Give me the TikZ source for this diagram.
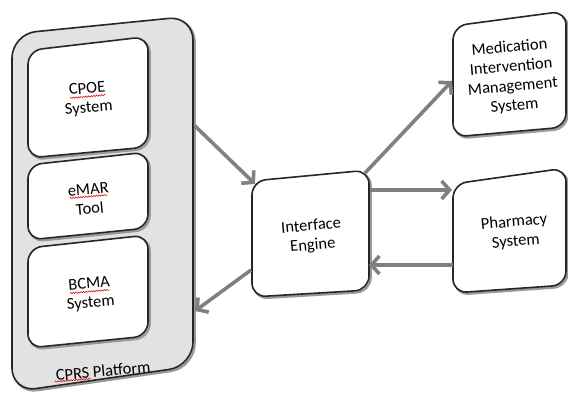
\documentclass[tikz,border=0pt]{standalone}
\usepackage{fontspec}
\setmainfont{Carlito}
\usetikzlibrary{arrows.meta,decorations.pathmorphing}
\definecolor{platformgray}{RGB}{226,226,226}
\definecolor{linkgray}{RGB}{128,128,128}
\tikzset{
  boxline/.style={draw=black!85, line width=1.6pt, rounded corners=14pt, line join=round},
  boxshade/.style={draw=black!40, line width=2.4pt, rounded corners=14pt, shift={(1.6,1.6)}},
  label/.style={align=center, font=\fontsize{16.5}{19.5}\selectfont, rotate=5, inner sep=0pt},
  link/.style={draw=linkgray, line width=3.6pt, -{Straight Barb[length=8pt,width=18pt,line width=3.6pt]}},
  spellwave/.style={draw=red!85!black, line width=0.5pt,
    decorate, decoration={snake, amplitude=0.7pt, segment length=2.6pt}},
}
% red wavy underline below part of a label, in the label's own tilted frame
\newcommand\spellmark[4]{%
  \begin{scope}[shift={(#1.center)}, rotate=5]
    \draw[spellwave] (#2,#4) -- (#3,#4);
  \end{scope}}
\begin{document}
\begin{tikzpicture}[x=1pt, y=-1pt]
\useasboundingbox (0,0) rectangle (568,394);

% CPRS platform container
\draw[boxshade, rounded corners=24pt] (12,34) -- (193,16) -- (193,366) -- (12,392) -- cycle;
\draw[boxline, rounded corners=24pt, fill=platformgray] (12,34) -- (193,16) -- (193,366) -- (12,392) -- cycle;

% modules on the platform
\foreach \ya/\yb/\yc/\yd in {50.5/36.5/147/158, 165/152/228/240, 248/235/336/348}{
  \draw[boxshade] (28,\ya) -- (148,\yb) -- (148,\yc) -- (28,\yd) -- cycle;
  \draw[boxline, fill=white] (28,\ya) -- (148,\yb) -- (148,\yc) -- (28,\yd) -- cycle;
}

% interface engine
\draw[boxshade] (252,181) -- (369,170) -- (369,290) -- (252,297) -- cycle;
\draw[boxline, fill=white] (252,181) -- (369,170) -- (369,290) -- (252,297) -- cycle;

% medication intervention management system
\draw[boxshade] (453,26) -- (566,11) -- (566,127) -- (453,137) -- cycle;
\draw[boxline, fill=white] (453,26) -- (566,11) -- (566,127) -- (453,137) -- cycle;

% pharmacy system
\draw[boxshade] (453,184) -- (566,168) -- (566,285) -- (453,293) -- cycle;
\draw[boxline, fill=white] (453,184) -- (566,168) -- (566,285) -- (453,293) -- cycle;

% texts
\node[label] (cpoe) at (88,99) {CPOE\\System};
\node[label] (emar) at (89,199) {eMAR\\Tool};
\node[label] (bcma) at (90,294) {BCMA\\System};
\node[label] (cprs) at (103,371) {CPRS Platform};
\node[label] (ie) at (312,236) {Interface\\Engine};
\node[label] (mims) at (512,77) {Medication\\Intervention\\Management\\System};
\node[label] (pharm) at (515,232) {Pharmacy\\System};

\spellmark{cpoe}{-18}{18}{-2.5}
\spellmark{emar}{-19}{19}{-2.5}
\spellmark{bcma}{-20}{20}{-2.5}
\spellmark{cprs}{-49}{-13}{6.5}

% connector ends on the box edges
\coordinate (platOut) at (195,126);
\coordinate (platIn) at (195,311);
\coordinate (ieNW) at (255,184);
\coordinate (ieSW) at (251,270);
\coordinate (ieNE) at (365,173);
\coordinate (ieE1) at (370,190);
\coordinate (ieE2) at (369,265);
\coordinate (mimsW) at (452,81);
\coordinate (pharmW1) at (452,190);
\coordinate (pharmW2) at (453,265);

% message flows
\draw[link] (platOut) -- (ieNW);
\draw[link] (ieSW) -- (platIn);
\draw[link] (ieNE) -- (mimsW);
\draw[link] (ieE1) -- (pharmW1);
\draw[link] (pharmW2) -- (ieE2);
\end{tikzpicture}
\end{document}
